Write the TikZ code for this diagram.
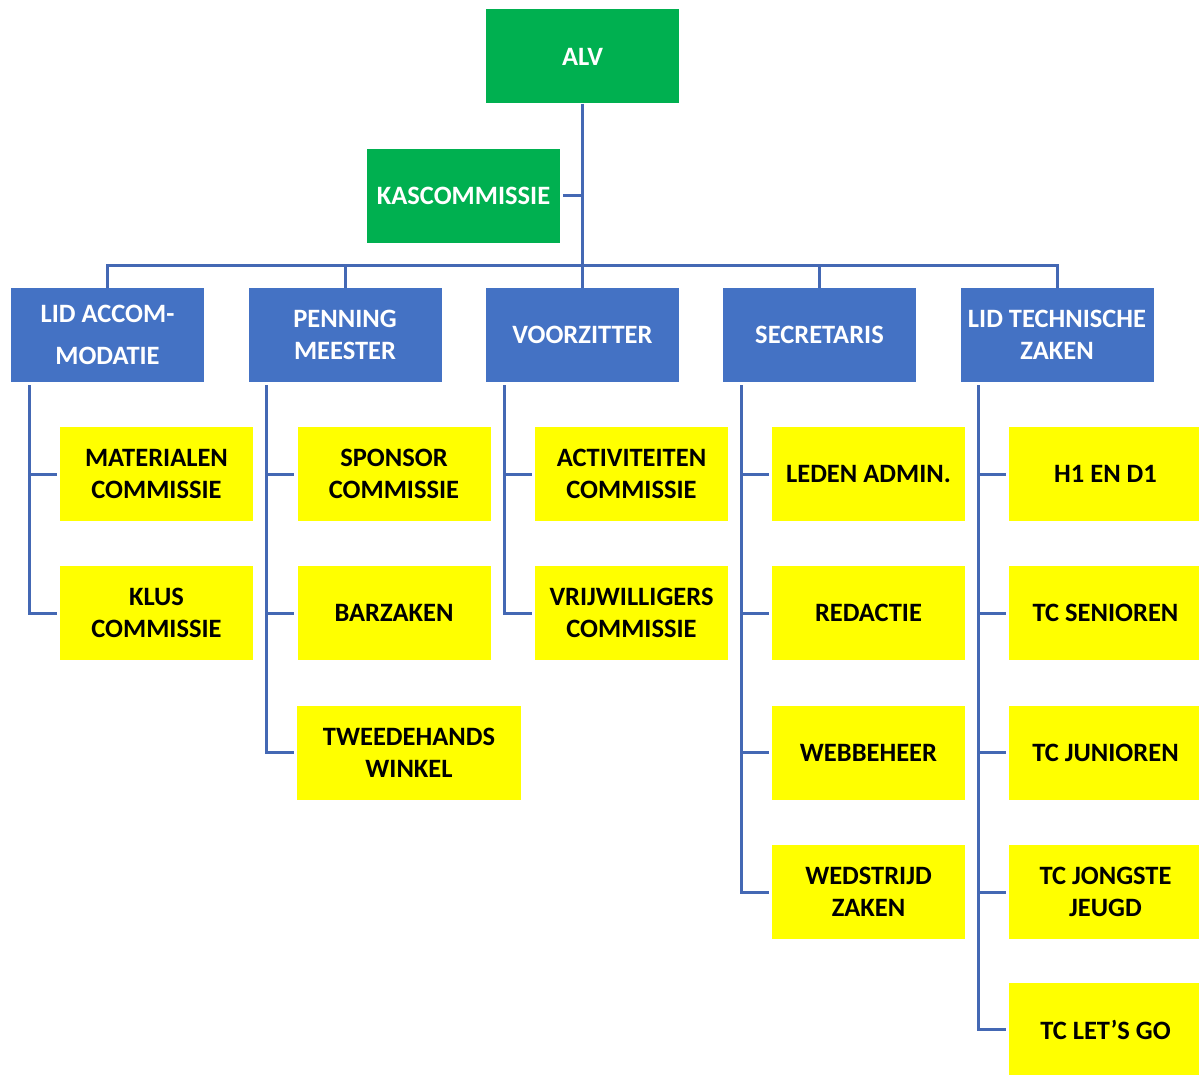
\documentclass[tikz,border=0pt]{standalone}
\usepackage{fontspec}
\setmainfont{Carlito}
\definecolor{gr}{HTML}{00B050}
\definecolor{bl}{HTML}{4472C4}
\definecolor{ye}{HTML}{FFFF00}
\definecolor{ln}{RGB}{68,104,180}
\begin{document}
\begin{tikzpicture}[x=1pt,y=-1pt,
  box/.style={rectangle,inner sep=0pt,minimum width=193pt,minimum height=94pt,align=center,
    font=\fontsize{26.5}{32}\selectfont\bfseries},
  green/.style={box,fill=gr,text=white},
  blue/.style={box,fill=bl,text=white},
  yellow/.style={box,fill=ye,text=black},
  conn/.style={draw=ln,line width=3pt}]
\useasboundingbox (0,0) rectangle (1199,1075);
\fill[white] (0,0) rectangle (1199,1075);
% top
\node[green] (alv) at (582.5,56.5) {ALV};
\node[green] (kas) at (463.5,196) {KASCOMMISSIE};
% leads
\node[blue] (l1) at (107.5,335) {LID ACCOM-\\[10pt]MODATIE};
\node[blue] (l2) at (345,335) {PENNING\\MEESTER};
\node[blue] (l3) at (582.5,335) {VOORZITTER};
\node[blue] (l4) at (819.5,335) {SECRETARIS};
\node[blue] (l5) at (1057,335) {LID TECHNISCHE\\ZAKEN};
% column 1
\node[yellow] (c11) at (156.5,474) {MATERIALEN\\COMMISSIE};
\node[yellow] (c12) at (156.5,613) {KLUS\\COMMISSIE};
% column 2
\node[yellow] (c21) at (394,474) {SPONSOR\\COMMISSIE};
\node[yellow] (c22) at (394,613) {BARZAKEN};
\node[yellow,minimum width=224pt] (c23) at (409,752.5) {TWEEDEHANDS\\WINKEL};
% column 3
\node[yellow] (c31) at (631.5,474) {ACTIVITEITEN\\COMMISSIE};
\node[yellow] (c32) at (631.5,613) {VRIJWILLIGERS\\COMMISSIE};
% column 4
\node[yellow] (c41) at (868.5,474) {LEDEN ADMIN.};
\node[yellow] (c42) at (868.5,613) {REDACTIE};
\node[yellow] (c43) at (868.5,752.5) {WEBBEHEER};
\node[yellow] (c44) at (868.5,892) {WEDSTRIJD\\ZAKEN};
% column 5
\node[yellow] (c51) at (1105.5,474) {H1 EN D1};
\node[yellow] (c52) at (1105.5,613) {TC SENIOREN};
\node[yellow] (c53) at (1105.5,752.5) {TC JUNIOREN};
\node[yellow] (c54) at (1105.5,892) {TC JONGSTE\\JEUGD};
\node[yellow] (c55) at (1105.5,1029.5) {TC LET'S GO};
% connectors top
\coordinate (bar) at (582.5,266);
\draw[conn] (alv.south) -- (l3.north);
\draw[conn,shorten <=3pt] (kas.east) -- (kas.east -| alv.south);
\draw[conn] (l1.north) |- (bar) -| (l5.north);
\draw[conn] (l2.north) -- (l2.north |- bar);
\draw[conn] (l4.north) -- (l4.north |- bar);
% spines
\coordinate (s1) at (29,385);
\coordinate (s2) at (266,385);
\coordinate (s3) at (504,385);
\coordinate (s4) at (741,385);
\coordinate (s5) at (978,385);
\foreach \s/\c in {s1/c11,s1/c12,s2/c21,s2/c22,s2/c23,s3/c31,s3/c32,
  s4/c41,s4/c42,s4/c43,s4/c44,s5/c51,s5/c52,s5/c53,s5/c54,s5/c55}
  \draw[conn,shorten >=3pt] (\s) |- (\c.west);
\end{tikzpicture}
\end{document}
